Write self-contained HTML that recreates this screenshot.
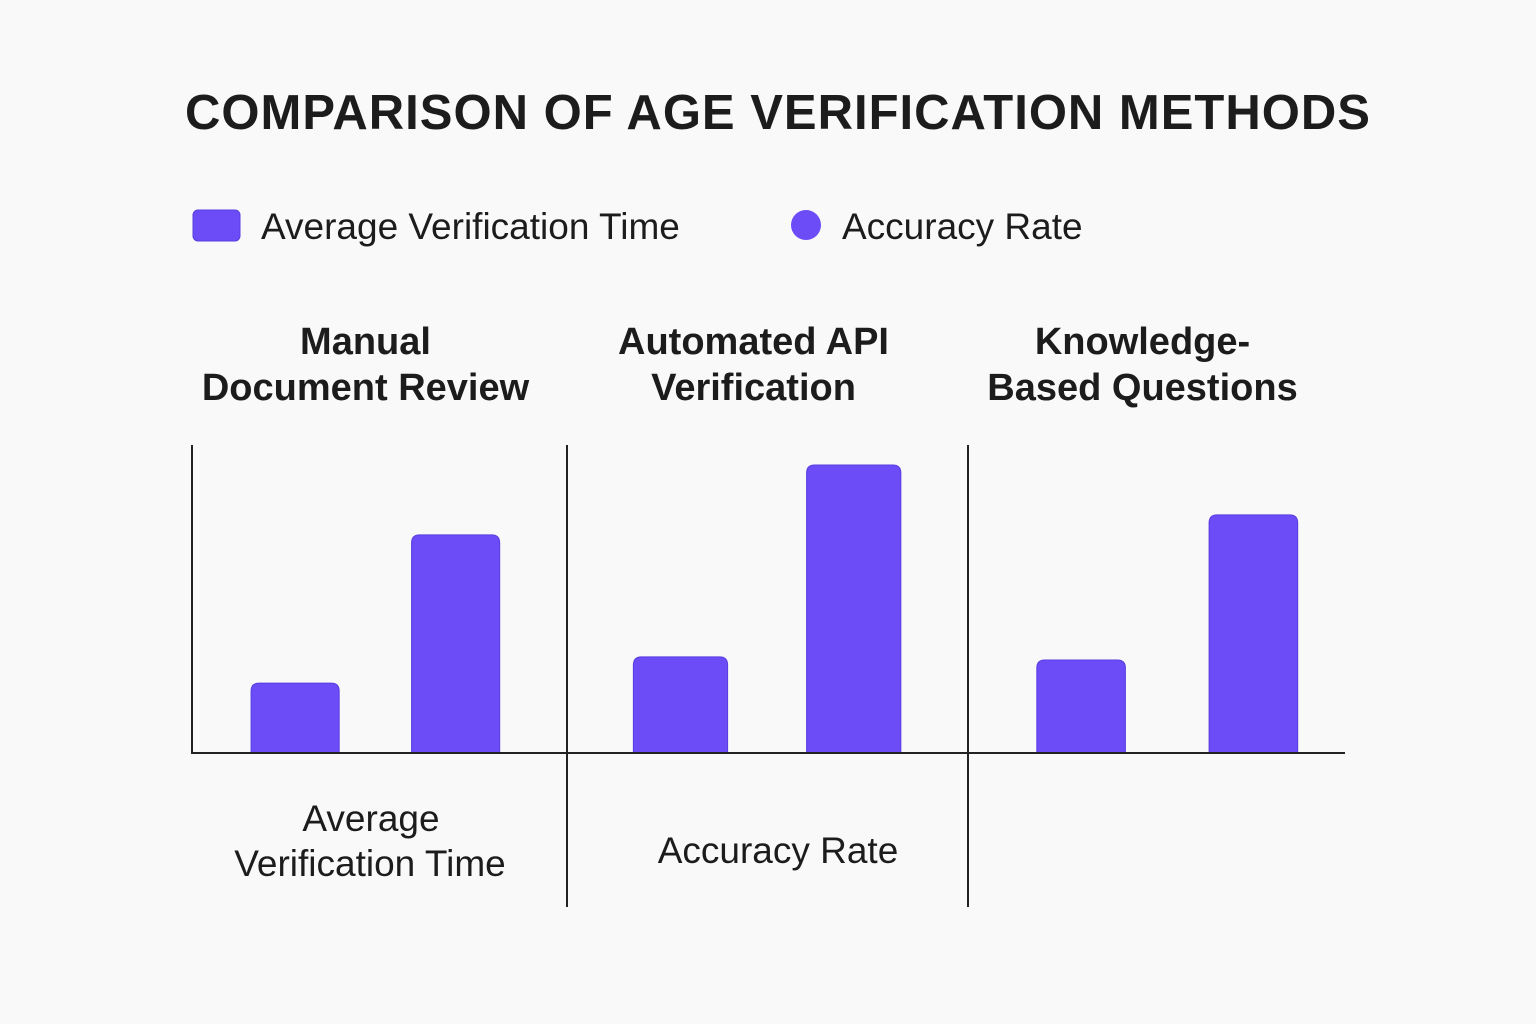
<!DOCTYPE html>
<html><head><meta charset="utf-8">
<style>
html,body{margin:0;padding:0;background:#f9f9f9;}
svg{display:block;font-family:"Liberation Sans","DejaVu Sans",sans-serif;}
</style></head>
<body>
<svg id="chart" width="1536" height="1024" viewBox="0 0 1536 1024">
<rect width="1536" height="1024" fill="#f9f9f9"/>
<text x="778" y="129" text-anchor="middle" font-size="49" font-weight="bold" fill="#1c1c1c" letter-spacing="1">COMPARISON OF AGE VERIFICATION METHODS</text>
<g>
<rect x="193" y="210" width="47" height="31" rx="5" fill="#6b4cf6" stroke="#5a3ee0"/>
<text x="261" y="239" font-size="37" fill="#1c1c1c">Average Verification Time</text>
<circle cx="806" cy="225" r="15" fill="#6b4cf6"/>
<text x="842" y="239" font-size="37" fill="#1c1c1c">Accuracy Rate</text>
</g>
<g id="plot"></g>
<g>
<text x="371" y="831" text-anchor="middle" font-size="37" fill="#1c1c1c">Average</text>
<text x="370" y="876" text-anchor="middle" font-size="37" fill="#1c1c1c">Verification Time</text>
<text x="778" y="863" text-anchor="middle" font-size="37" fill="#1c1c1c">Accuracy Rate</text>
</g>
</svg>
<script>
const categories = [["Manual","Document Review"],["Automated API","Verification"],["Knowledge-","Based Questions"]];
const timeValues = [22.7, 31.2, 30.2];
const accuracyValues = [70.8, 93.5, 77.3];
const yMax = 100;

const NS = "http://www.w3.org/2000/svg";
const plot = document.getElementById("plot");
const baseY = 753, topY = 445;
const groupEdges = [192, 567, 968, 1345];
function yScale(v){ return baseY - (v / yMax) * (baseY - topY); }
function mk(tag, attrs){ const e = document.createElementNS(NS, tag); for (const k in attrs) e.setAttribute(k, attrs[k]); plot.appendChild(e); return e; }

const frac1 = [0.275, 0.283, 0.300], frac2 = [0.703, 0.715, 0.757];
categories.forEach((cat, i) => {
  const x0 = groupEdges[i], x1 = groupEdges[i+1], w = x1 - x0;
  const bw = w * 0.235;
  const cx1 = x0 + w * frac1[i], cx2 = x0 + w * frac2[i];
  const yt = yScale(timeValues[i]);
  const b1 = mk("path", {d: `M${cx1-bw/2},${baseY} V${yt+8} Q${cx1-bw/2},${yt} ${cx1-bw/2+8},${yt} H${cx1+bw/2-8} Q${cx1+bw/2},${yt} ${cx1+bw/2},${yt+8} V${baseY} Z`, fill:"#6b4cf6", stroke:"#5a3ee0"});
  
  
  const ya = yScale(accuracyValues[i]);
  const b2 = mk("path", {d: `M${cx2-bw/2},${baseY} V${ya+8} Q${cx2-bw/2},${ya} ${cx2-bw/2+8},${ya} H${cx2+bw/2-8} Q${cx2+bw/2},${ya} ${cx2+bw/2},${ya+8} V${baseY} Z`, fill:"#6b4cf6", stroke:"#5a3ee0"});
  
  
  const cxm = (x0 + x1) / 2 - 14;
  cat.forEach((line, j) => {
    const t = mk("text", {x: cxm, y: 354 + j*46, "text-anchor":"middle", "font-size":"38", "font-weight":"bold", fill:"#1c1c1c"});
    t.textContent = line;
    
    
  });
});
const ax = mk("line", {x1:192, y1:445, x2:192, y2:754, stroke:"#222", "stroke-width":2});


const bx = mk("line", {x1:192, y1:753, x2:1345, y2:753, stroke:"#222", "stroke-width":2});


[567, 968].forEach((x, k) => {
  const d = mk("line", {x1:x, y1:445, x2:x, y2:907, stroke:"#222", "stroke-width":2});
  
  
});
</script>
</body></html>
